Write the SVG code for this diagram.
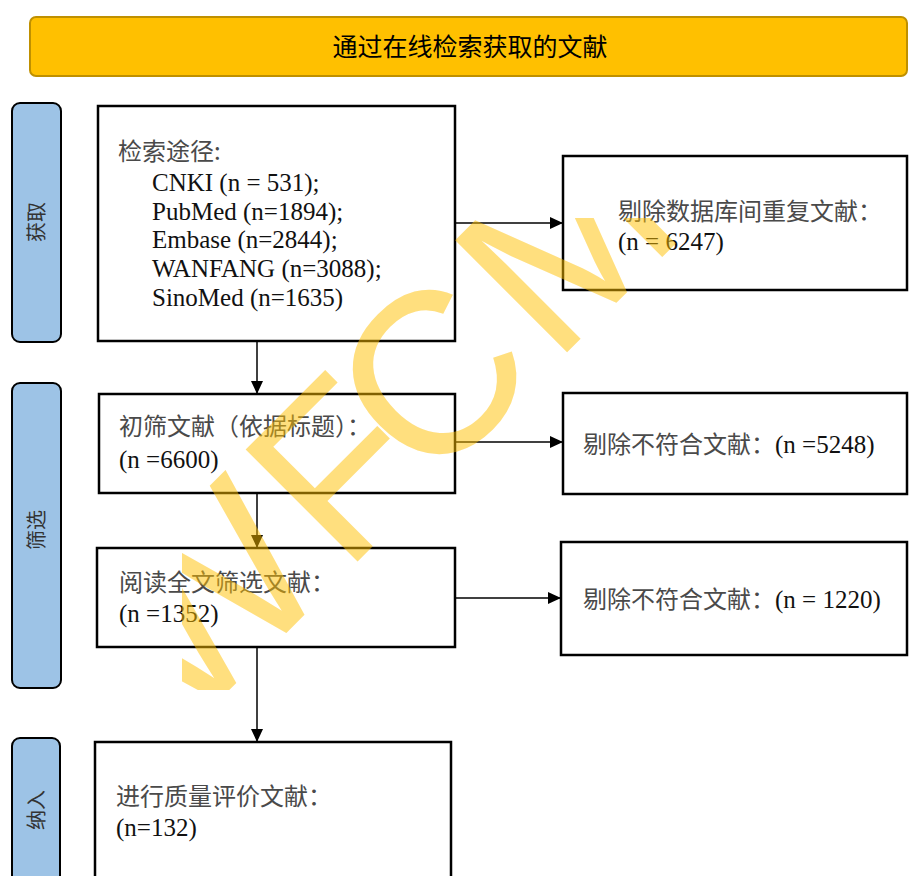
<svg xmlns="http://www.w3.org/2000/svg" width="909" height="876" viewBox="0 0 909 876">
<defs>
<style>
.box{fill:#fff;stroke:#000;stroke-width:2.5}
.bar{fill:#9DC3E6;stroke:#000;stroke-width:2}
.t{font-family:"Liberation Serif","Noto Sans CJK SC",serif;font-size:25px;fill:#111}
.zh{font-family:"Noto Sans CJK SC",sans-serif;font-size:24px;fill:#4a4a4a}
.side{font-family:"Noto Sans CJK SC",sans-serif;font-size:20px;fill:#333;text-anchor:middle}
.conn{stroke:#000;stroke-width:1.5;fill:none;marker-end:url(#ah)}
</style>
<marker id="ah" markerUnits="userSpaceOnUse" markerWidth="13" markerHeight="12" refX="13" refY="6" orient="auto">
<path d="M0,0 L13,6 L0,12 z" fill="#000"/>
</marker>
<clipPath id="wmclip"><rect x="182" y="218" width="727" height="472"/></clipPath>
</defs>
<rect width="909" height="876" fill="#fff"/>
<g id="banner">
<rect x="30" y="17" width="877" height="59" rx="6" fill="#FFC000" stroke="#BF9000" stroke-width="2"/>
<text x="470" y="56" font-family="'Noto Sans CJK SC',sans-serif" font-size="25" text-anchor="middle" fill="#000">通过在线检索获取的文献</text>
</g>
<g id="stage-acquire">
<rect class="bar" x="12" y="103" width="49" height="239" rx="8"/>
<text class="side" transform="translate(44 222) rotate(-90)">获取</text>
</g>
<g id="stage-screen">
<rect class="bar" x="12" y="383" width="49" height="305" rx="8"/>
<text class="side" transform="translate(44 530) rotate(-90)">筛选</text>
</g>
<g id="stage-include">
<rect class="bar" x="12" y="738" width="48" height="170" rx="8"/>
<text class="side" transform="translate(44 810) rotate(-90)">纳入</text>
</g>
<g id="search">
<rect class="box" x="98" y="106" width="357" height="235"/>
<text class="zh" x="118" y="160">检索途径:</text>
<text class="t" x="152" y="191">CNKI (n = 531);</text>
<text class="t" x="152" y="220">PubMed (n=1894);</text>
<text class="t" x="152" y="248">Embase (n=2844);</text>
<text class="t" x="152" y="277">WANFANG (n=3088);</text>
<text class="t" x="152" y="306">SinoMed (n=1635)</text>
</g>
<g id="dedup">
<rect class="box" x="563" y="156" width="344" height="134"/>
<text class="zh" x="618" y="220">剔除数据库间重复文献：</text>
<text class="t" x="618" y="250">(n = 6247)</text>
</g>
<g id="title-screen">
<rect class="box" x="99" y="394" width="356" height="99"/>
<text class="zh" x="119" y="435">初筛文献（依据标题）：</text>
<text class="t" x="119" y="468">(n =6600)</text>
</g>
<g id="exclude1">
<rect class="box" x="563" y="393" width="344" height="101"/>
<text class="t" x="583" y="453"><tspan class="zh">剔除不符合文献：</tspan>(n =5248)</text>
</g>
<g id="fulltext">
<rect class="box" x="97" y="548" width="358" height="99"/>
<text class="zh" x="119" y="591">阅读全文筛选文献：</text>
<text class="t" x="119" y="622">(n =1352)</text>
</g>
<g id="exclude2">
<rect class="box" x="561" y="542" width="346" height="113"/>
<text class="t" x="583" y="608"><tspan class="zh">剔除不符合文献：</tspan>(n = 1220)</text>
</g>
<g id="included">
<rect class="box" x="95" y="742" width="356" height="170"/>
<text class="zh" x="116" y="805">进行质量评价文献：</text>
<text class="t" x="116" y="836">(n=132)</text>
</g>
<g id="connectors">
<line class="conn" x1="455" y1="223" x2="563" y2="223"/>
<line class="conn" x1="257" y1="341" x2="257" y2="394"/>
<line class="conn" x1="455" y1="442" x2="563" y2="442"/>
<line class="conn" x1="257" y1="493" x2="257" y2="548"/>
<line class="conn" x1="455" y1="598" x2="561" y2="598"/>
<line class="conn" x1="257" y1="647" x2="257" y2="742"/>
</g>
<g id="watermark" clip-path="url(#wmclip)">
<text x="-89 137 256 433" y="0" transform="translate(247.5 671.7) rotate(-45)" font-family="'Liberation Sans',sans-serif" font-size="230" fill="#FFC000" opacity="0.5">WFCM</text>
</g>
</svg>
